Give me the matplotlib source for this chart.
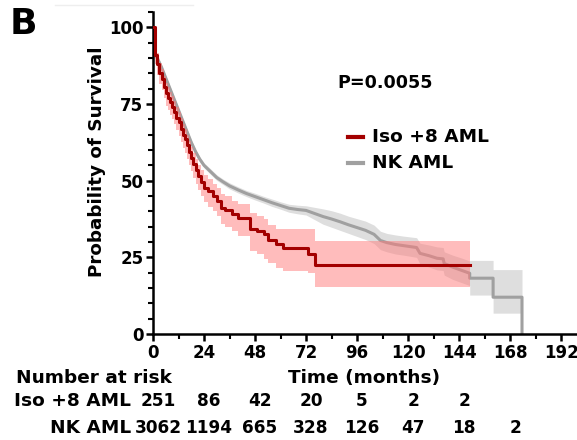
import numpy as np
import matplotlib
matplotlib.use("Agg")
import matplotlib.pyplot as plt
import matplotlib.transforms as mtransforms

# Kaplan-Meier estimates (months, % surviving)
iso_t = [0, 0.9, 2, 3, 4, 5, 6, 7, 8, 9, 10, 11, 12, 13, 14, 15, 16, 17, 18, 19, 20, 21,
         22.5, 24, 26, 28, 30, 32, 34, 37, 40, 45.5, 49, 52, 54, 58, 61, 73, 76, 149]
iso_s = [100, 91, 88, 85, 83, 80.5, 78.5, 77, 75.5, 74, 72.5, 70.5, 69, 67, 65, 63.5, 61.5,
         59.5, 57.5, 55.5, 53.5, 51.5, 49.5, 47.7, 46.5, 45, 43.5, 41, 40.3, 39, 37.7,
         34.4, 33.5, 32.5, 30.5, 29.5, 27.9, 26, 22.4, 22.4]
iso_hi = [100, 94, 91.5, 88.5, 86.5, 84, 82, 80.5, 79, 77.5, 76, 74, 72.5, 70.5, 68.5, 67, 65,
          63, 61, 59, 57, 55, 53.5, 51.7, 50.5, 49, 47.5, 45.5, 45, 43.5, 42.5,
          39.5, 38.5, 37.5, 35.5, 34.4, 34.4, 34.4, 30.2, 30.2]
iso_lo = [100, 88, 84.5, 81.5, 79.5, 77, 74.5, 73, 71.5, 70, 68.5, 66.5, 64.5, 62.5, 60.5, 59,
          57, 55, 53, 51, 49, 47, 45, 43, 41.5, 40, 38.5, 36, 35, 33.5, 32,
          27, 26, 24.5, 23, 21.5, 20.5, 20, 15.3, 15.3]

# NK AML has many small steps, so it is kept as a polyline with the big steps written out
nk_t = [0, 0, 1, 2, 4, 6, 8, 10, 12, 14, 16, 18, 20, 22, 24, 27, 30, 33, 36, 40,
        44, 48, 52, 56, 60, 64, 68, 72, 76, 80, 84, 88, 92, 96, 100, 104, 107, 110, 114, 118,
        124, 125.6, 130, 133.6, 136.5, 137, 141, 145, 149, 149, 160, 160, 173.6, 173.6]
nk_s = [100, 93, 91, 90, 87, 83.5, 80, 76.5, 73, 69.5, 66, 62.5, 59.5, 57, 55, 53, 51, 49.6,
        48.3, 47, 45.8, 44.8, 43.8, 42.8, 41.9, 41, 40.6, 40.3, 39.3, 38.3, 37.5, 36.6, 35.6,
        34.7, 33.8, 32.5, 30.5, 29.8, 29.2, 28.8, 28.2, 26.3, 25.5, 24.7, 24.5, 23, 21.8,
        20.8, 19.8, 18.2, 18.2, 12, 12, 0]
nk_hi = [100, 93.8, 91.8, 90.8, 87.8, 84.3, 80.8, 77.3, 73.8, 70.3, 66.8, 63.3, 60.3, 57.8,
         55.8, 53.9, 51.9, 50.5, 49.3, 48, 46.8, 45.9, 44.9, 44, 43.1, 42.3, 42, 41.8, 41.3,
         40.8, 40.2, 39.4, 38.4, 37.6, 36.8, 35.5, 33.5, 32.8, 32.3, 31.9, 31.4, 29.6, 29,
         28.4, 28.2, 26.8, 25.7, 24.8, 23.8, 24, 24, 21, 21, 21]
nk_lo = [100, 92.2, 90.2, 89.2, 86.2, 82.7, 79.2, 75.7, 72.2, 68.7, 65.2, 61.7, 58.7, 56.2,
         54.2, 52.1, 50.1, 48.7, 47.3, 46, 44.8, 43.7, 42.7, 41.6, 40.7, 39.7, 39.2, 38.8,
         37.3, 35.8, 34.8, 33.8, 32.8, 31.8, 30.8, 29.5, 27.5, 26.8, 26.1, 25.7, 25, 22.8,
         21.8, 20.9, 20.7, 19.2, 17.8, 16.8, 15.8, 12.7, 12.7, 6.8, 6.8, 6.8]

# number at risk table
risk_times_iso = [0, 24, 48, 72, 96, 120, 144]
risk_iso = [251, 86, 42, 20, 5, 2, 2]
risk_times_nk = [0, 24, 48, 72, 96, 120, 144, 168]
risk_nk = [3062, 1194, 665, 328, 126, 47, 18, 2]

RED = '#a30000'
GRAY = '#a0a0a0'
W, H = 577, 440

fig = plt.figure(figsize=(W / 100, H / 100), dpi=100)
ax = fig.add_axes([153 / W, 1 - 334 / H, (576 - 153) / W, (334 - 12) / H])

# bands first, then lines
ax.fill_between(nk_t, nk_lo, nk_hi, color='#c8c8c8', alpha=0.6, lw=0, zorder=1)
ax.plot(nk_t, nk_s, color=GRAY, lw=2.2, zorder=2)
ax.fill_between(iso_t, iso_lo, iso_hi, step='post', color='#ff7b7b', alpha=0.5, lw=0, zorder=3)
ax.step(iso_t, iso_s, where='post', color=RED, lw=2.2, zorder=4)

ax.set_xlim(0, 199)
ax.set_ylim(0, 105)
ax.set_xticks(np.arange(0, 193, 24))
ax.set_xticks(np.arange(12, 199, 24), minor=True)
ax.set_yticks([0, 25, 50, 75, 100])
ax.set_yticks(np.arange(5, 106, 5), minor=True)
for s in ['top', 'right']:
    ax.spines[s].set_visible(False)
for s in ['left', 'bottom']:
    ax.spines[s].set_linewidth(1.8)
ax.tick_params(which='major', direction='out', length=5, width=1.8, labelsize=12, pad=2)
ax.tick_params(which='minor', direction='out', length=3.5, width=1.5)
for lab in ax.get_xticklabels() + ax.get_yticklabels():
    lab.set_fontweight('bold')

ax.set_ylabel('Probability of Survival', fontsize=13.2, fontweight='bold')
ax.yaxis.set_label_coords(-0.111, 0.535)

# P value and legend
fig.text(337 / W, 1 - 83 / H, 'P=0.0055', fontsize=12.6, fontweight='bold', va='center')
for yy, lab, col in [(137, 'Iso +8 AML', RED), (163, 'NK AML', GRAY)]:
    fig.add_artist(plt.Line2D([348 / W, 363 / W], [1 - yy / H, 1 - yy / H],
                              color=col, lw=3))
    fig.text(372 / W, 1 - yy / H, lab, fontsize=13.3, fontweight='bold', va='center')

# panel letter
fig.text(10 / W, 1 - 24 / H, 'B', fontsize=26, fontweight='bold', va='center')
# faint rule at the top
fig.add_artist(plt.Line2D([55 / W, 193 / W], [1 - 5 / H, 1 - 5 / H], color='#eeeeee', lw=1))

# x label and risk table
fig.text(364 / W, 1 - 378 / H, 'Time (months)', fontsize=13.3, fontweight='bold',
         ha='center', va='center')
fig.text(94 / W, 1 - 378 / H, 'Number at risk', fontsize=13.3, fontweight='bold',
         ha='center', va='center')
trans = mtransforms.blended_transform_factory(ax.transData, fig.transFigure)
trans = trans + mtransforms.ScaledTranslation(0.05, 0, fig.dpi_scale_trans)
fig.text(131 / W, 1 - 401 / H, 'Iso +8 AML', fontsize=13.3, fontweight='bold',
         ha='right', va='center')
fig.text(131 / W, 1 - 428 / H, 'NK AML', fontsize=13.3, fontweight='bold',
         ha='right', va='center')
for t, n in zip(risk_times_iso, risk_iso):
    ax.text(t, 1 - 401 / H, str(n), transform=trans, fontsize=12.2, fontweight='bold',
            ha='center', va='center', clip_on=False)
for t, n in zip(risk_times_nk, risk_nk):
    ax.text(t, 1 - 428 / H, str(n), transform=trans, fontsize=12.2, fontweight='bold',
            ha='center', va='center', clip_on=False)

fig.savefig('out.png', dpi=100)
